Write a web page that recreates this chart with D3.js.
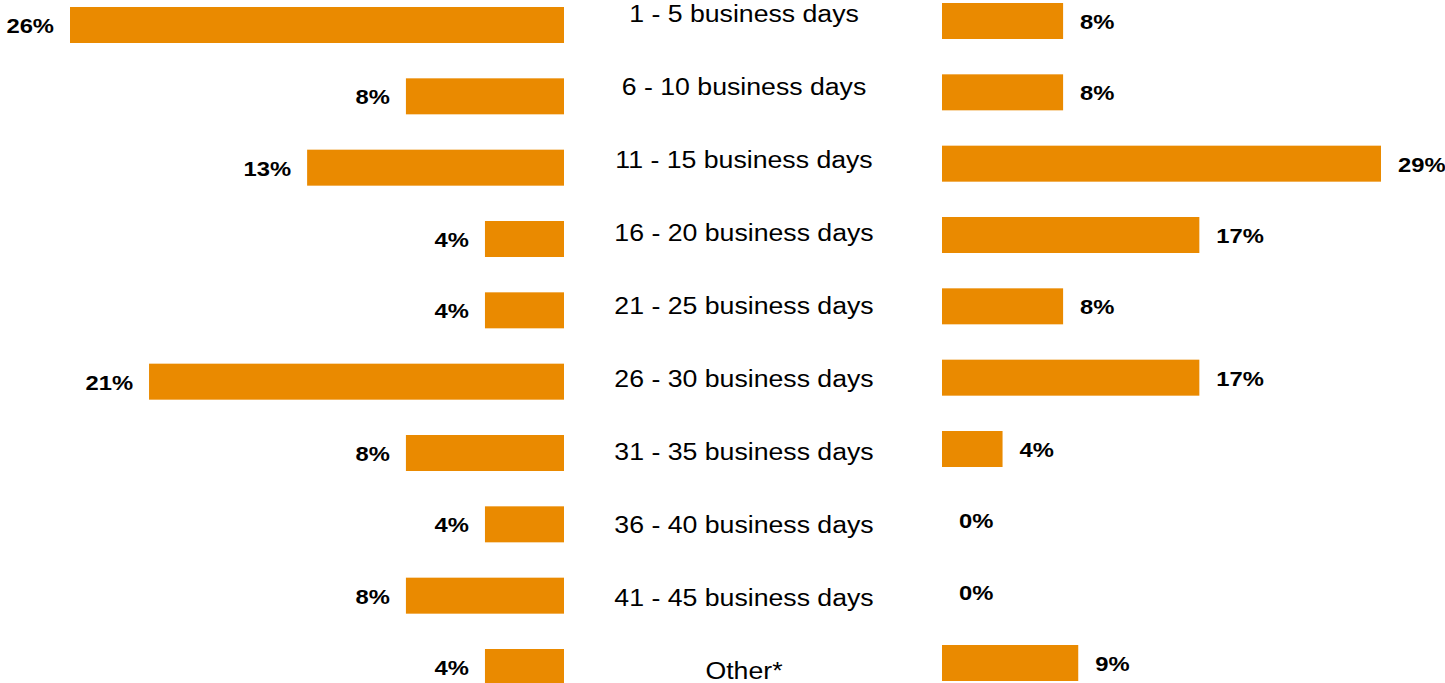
<!DOCTYPE html>
<html>
<head>
<meta charset="utf-8">
<script src="https://cdn.jsdelivr.net/npm/d3@7"></script>
<style>
  html, body { margin: 0; padding: 0; background: #fff; }
  svg { display: block; }
</style>
</head>
<body>
<svg id="chart" width="1445" height="683"></svg>
<script>
const categories = [
  "1 - 5 business days", "6 - 10 business days", "11 - 15 business days",
  "16 - 20 business days", "21 - 25 business days", "26 - 30 business days",
  "31 - 35 business days", "36 - 40 business days", "41 - 45 business days", "Other*"
];
const leftValues  = [26, 8, 13, 4, 4, 21, 8, 4, 8, 4];
const rightValues = [8, 8, 29, 17, 8, 17, 4, 0, 0, 9];
const leftLabels  = ["26%", "8%", "13%", "4%", "4%", "21%", "8%", "4%", "8%", "4%"];
const rightLabels = ["8%", "8%", "29%", "17%", "8%", "17%", "4%", "0%", "0%", "9%"];

const svg = d3.select("#chart");
const barColor = "#EA8A00";
const barH = 36;
const sx = 1.16; // horizontal stretch of the original picture

const yLeft  = d3.scalePoint().domain(categories).range([25, 667]);
const yRight = d3.scalePoint().domain(categories).range([21, 663]);
const yCat   = d3.scalePoint().domain(categories).range([14, 671]);

const leftEdge = 564, rightEdge = 942;
const xLeft  = d3.scaleLinear().domain([0, 25]).range([0, 494]).clamp(true);
const xRight = d3.scaleLinear().domain([0, 29]).range([0, 439]);

const leftData  = categories.map((c, i) => ({c, v: leftValues[i],  l: leftLabels[i]}));
const rightData = categories.map((c, i) => ({c, v: rightValues[i], l: rightLabels[i]}));

// Left bars
svg.append("g").selectAll("rect").data(leftData).join("rect")
  .attr("x", d => leftEdge - xLeft(d.v))
  .attr("y", d => yLeft(d.c) - barH / 2)
  .attr("width", d => xLeft(d.v))
  .attr("height", barH)
  .attr("fill", barColor);

svg.append("g").selectAll("text").data(leftData).join("text")
  .attr("transform", d => `translate(${leftEdge - xLeft(d.v) - 16},${yLeft(d.c) + 8}) scale(${sx},1)`)
  .attr("text-anchor", "end")
  .attr("font-family", "Liberation Sans, Arial, sans-serif")
  .attr("font-weight", "bold")
  .attr("font-size", 20.5)
  .attr("fill", "#000")
  .text(d => d.l);

// Right bars
svg.append("g").selectAll("rect").data(rightData.filter(d => d.v > 0)).join("rect")
  .attr("x", rightEdge)
  .attr("y", d => yRight(d.c) - barH / 2)
  .attr("width", d => xRight(d.v))
  .attr("height", barH)
  .attr("fill", barColor);

svg.append("g").selectAll("text").data(rightData).join("text")
  .attr("transform", d => `translate(${rightEdge + xRight(d.v) + 17},${yRight(d.c) + 8}) scale(${sx},1)`)
  .attr("text-anchor", "start")
  .attr("font-family", "Liberation Sans, Arial, sans-serif")
  .attr("font-weight", "bold")
  .attr("font-size", 20.5)
  .attr("fill", "#000")
  .text(d => d.l);

// Category labels
svg.append("g").selectAll("text").data(categories).join("text")
  .attr("transform", d => `translate(744,${yCat(d) + 8}) scale(${sx},1)`)
  .attr("text-anchor", "middle")
  .attr("font-family", "Liberation Sans, Arial, sans-serif")
  .attr("font-size", 23)
  .attr("fill", "#000")
  .text(d => d);
</script>
</body>
</html>
